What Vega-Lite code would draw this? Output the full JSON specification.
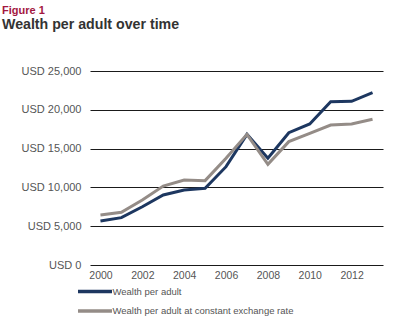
{
  "$schema": "https://vega.github.io/schema/vega-lite/v6.json",
  "autosize": "none",
  "width": 293,
  "height": 194,
  "padding": {"left": 90, "top": 71, "right": 14, "bottom": 71},
  "background": "white",
  "title": {
    "text": "Figure 1",
    "subtitle": "Wealth per adult over time",
    "anchor": "start",
    "frame": "group",
    "dx": -88,
    "offset": 33,
    "font": "Liberation Sans",
    "fontSize": 11,
    "fontWeight": "bold",
    "color": "#a3173f",
    "subtitleFont": "Liberation Sans",
    "subtitleFontSize": 14.2,
    "subtitleFontWeight": "bold",
    "subtitleColor": "#333333",
    "subtitlePadding": 2
  },
  "data": {
    "values": [
      {"year": 2000, "series": "Wealth per adult", "value": 5670},
      {"year": 2001, "series": "Wealth per adult", "value": 6100},
      {"year": 2002, "series": "Wealth per adult", "value": 7510},
      {"year": 2003, "series": "Wealth per adult", "value": 9020},
      {"year": 2004, "series": "Wealth per adult", "value": 9660},
      {"year": 2005, "series": "Wealth per adult", "value": 9880},
      {"year": 2006, "series": "Wealth per adult", "value": 12670},
      {"year": 2007, "series": "Wealth per adult", "value": 16840},
      {"year": 2008, "series": "Wealth per adult", "value": 13750},
      {"year": 2009, "series": "Wealth per adult", "value": 17050},
      {"year": 2010, "series": "Wealth per adult", "value": 18170},
      {"year": 2011, "series": "Wealth per adult", "value": 21050},
      {"year": 2012, "series": "Wealth per adult", "value": 21100},
      {"year": 2013, "series": "Wealth per adult", "value": 22200},
      {"year": 2000, "series": "Wealth per adult at constant exchange rate", "value": 6440},
      {"year": 2001, "series": "Wealth per adult at constant exchange rate", "value": 6790},
      {"year": 2002, "series": "Wealth per adult at constant exchange rate", "value": 8380},
      {"year": 2003, "series": "Wealth per adult at constant exchange rate", "value": 10180},
      {"year": 2004, "series": "Wealth per adult at constant exchange rate", "value": 10950},
      {"year": 2005, "series": "Wealth per adult at constant exchange rate", "value": 10870},
      {"year": 2006, "series": "Wealth per adult at constant exchange rate", "value": 13750},
      {"year": 2007, "series": "Wealth per adult at constant exchange rate", "value": 16840},
      {"year": 2008, "series": "Wealth per adult at constant exchange rate", "value": 12970},
      {"year": 2009, "series": "Wealth per adult at constant exchange rate", "value": 15900},
      {"year": 2010, "series": "Wealth per adult at constant exchange rate", "value": 16970},
      {"year": 2011, "series": "Wealth per adult at constant exchange rate", "value": 18040},
      {"year": 2012, "series": "Wealth per adult at constant exchange rate", "value": 18170},
      {"year": 2013, "series": "Wealth per adult at constant exchange rate", "value": 18780}
    ]
  },
  "mark": {"type": "line", "strokeWidth": 3, "strokeJoin": "miter"},
  "encoding": {
    "x": {
      "field": "year",
      "type": "quantitative",
      "scale": {"domain": [1999.5, 2013.5], "nice": false, "zero": false},
      "axis": {
        "title": null,
        "values": [2000, 2002, 2004, 2006, 2008, 2010, 2012],
        "format": "d",
        "domain": false,
        "ticks": false,
        "grid": false,
        "labelFont": "Liberation Sans",
        "labelFontSize": 10.5,
        "labelColor": "#555555",
        "labelPadding": 5
      }
    },
    "y": {
      "field": "value",
      "type": "quantitative",
      "scale": {"domain": [0, 25000], "nice": false},
      "axis": {
        "title": null,
        "values": [0, 5000, 10000, 15000, 20000, 25000],
        "labelExpr": "'USD ' + format(datum.value, ',')",
        "domain": false,
        "ticks": false,
        "grid": true,
        "gridColor": "#1a1a1a",
        "gridWidth": 1,
        "gridOpacity": 1,
        "labelFont": "Liberation Sans",
        "labelFontSize": 11,
        "labelColor": "#555555",
        "labelPadding": 9
      }
    },
    "color": {
      "field": "series",
      "type": "nominal",
      "scale": {
        "domain": ["Wealth per adult", "Wealth per adult at constant exchange rate"],
        "range": ["#1d3760", "#948c87"]
      },
      "legend": {
        "title": null,
        "orient": "none",
        "legendX": -5.5,
        "legendY": 210,
        "direction": "vertical",
        "symbolType": "M-2,0H2",
        "symbolSize": 289,
        "symbolStrokeWidth": 3.5,
        "symbolOffset": 0,
        "labelOffset": 7,
        "rowPadding": 1.5,
        "labelFont": "Liberation Sans",
        "labelFontSize": 9.5,
        "labelColor": "#555555",
        "labelLimit": 300
      }
    }
  },
  "config": {"view": {"stroke": null}}
}
